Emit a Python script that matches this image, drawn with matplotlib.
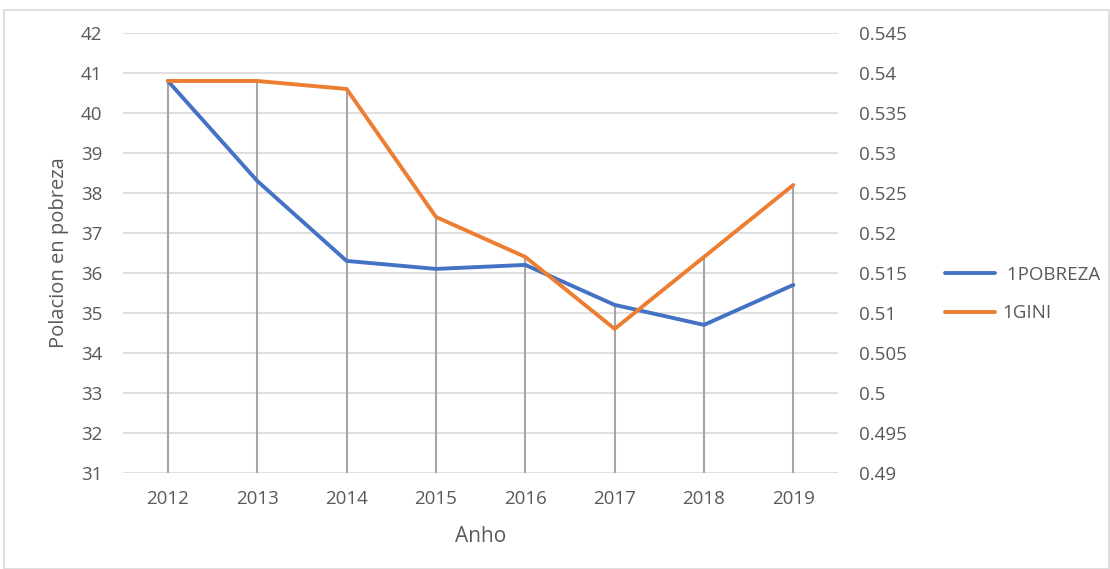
import matplotlib.pyplot as plt
import numpy as np
from matplotlib.patches import Rectangle

years = ["2012", "2013", "2014", "2015", "2016", "2017", "2018", "2019"]
pobreza = [40.8, 38.3, 36.3, 36.1, 36.2, 35.2, 34.7, 35.7]
gini = [0.539, 0.539, 0.538, 0.522, 0.517, 0.508, 0.517, 0.526]

GRAY = "#595959"
BLUE = "#4472C4"
ORANGE = "#ED7D31"

plt.rcParams["font.family"] = ["Open Sans", "DejaVu Sans"]

fig = plt.figure(figsize=(11.1, 5.69), dpi=100)
fig.patches.append(Rectangle((0.004, 0.0), 0.995, 0.982, transform=fig.transFigure,
                             fill=False, edgecolor="#d9d9d9", linewidth=1.2))
ax = fig.add_axes([0.111, 0.169, 0.644, 0.773])
ax2 = ax.twinx()

x = np.arange(len(years))
ymin, ymax = 31, 42
gmin, gmax = 0.49, 0.545

# drop lines from the higher of the two series
gini_left = ymin + (np.array(gini) - gmin) / (gmax - gmin) * (ymax - ymin)
tops = np.maximum(np.array(pobreza), gini_left)
ax.vlines(x, ymin, tops, color="#a6a6a6", linewidth=1.5, zorder=2)

ax.set_ylim(ymin, ymax)
ax.set_yticks(np.arange(31, 43, 1))
ax.set_xlim(-0.5, len(years) - 0.5)
ax.set_xticks(x)
ax.set_xticklabels(years)
ax.grid(axis="y", color="#d9d9d9", linewidth=1.2)
ax.set_axisbelow(True)

l1, = ax.plot(x, pobreza, color=BLUE, linewidth=2.8, zorder=3,
              solid_capstyle="round", label=" 1POBREZA")
l2, = ax2.plot(x, gini, color=ORANGE, linewidth=2.8, zorder=3,
               solid_capstyle="round", label="1GINI")
ax2.set_ylim(gmin, gmax)
ax2.set_yticks(np.arange(0.49, 0.5451, 0.005))
ax2.set_yticklabels(["0.49", "0.495", "0.5", "0.505", "0.51", "0.515", "0.52",
                     "0.525", "0.53", "0.535", "0.54", "0.545"])

for a in (ax, ax2):
    for s in a.spines.values():
        s.set_visible(False)
    a.tick_params(length=0, labelsize=13.5, labelcolor=GRAY)
ax.tick_params(axis="y", pad=15)
ax.tick_params(axis="x", pad=12)
ax2.tick_params(axis="y", pad=15)

ax.set_ylabel("Polacion en pobreza", color=GRAY, fontsize=14.5)
ax.yaxis.set_label_coords(-0.076, 0.5)
ax.set_xlabel("Anho", color=GRAY, fontsize=15)
ax.xaxis.set_label_coords(0.5, -0.12)

fig.legend(handles=[l1, l2], loc="center left", bbox_to_anchor=(0.836, 0.483),
           frameon=False, fontsize=13.5, labelcolor=GRAY, handlelength=2.7,
           handletextpad=0.35, labelspacing=1.1)

fig.savefig("out.png", dpi=100)
